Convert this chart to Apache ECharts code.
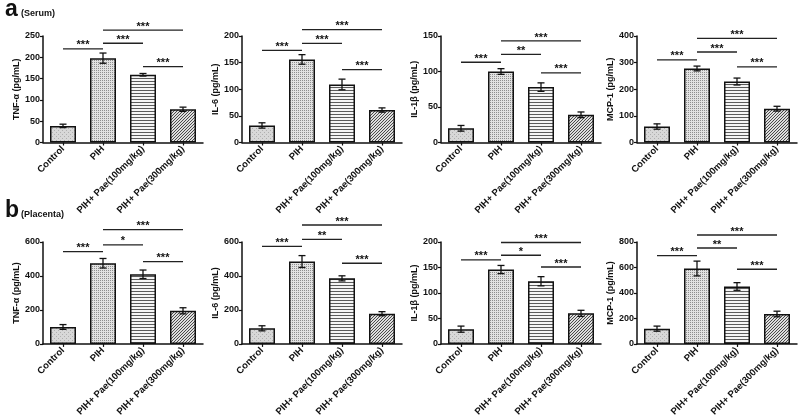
<!DOCTYPE html>
<html><head><meta charset="utf-8">
<script src="https://cdn.jsdelivr.net/npm/echarts@6/dist/echarts.min.js"></script>
<style>html,body{margin:0;padding:0;background:#fff}#c{width:800px;height:419px}</style>
</head><body><div id="c"></div>
<script>
const categories = ['Control', 'PIH', 'PIH+ Pae(100mg/kg)', 'PIH+ Pae(300mg/kg)'];

// (a) Serum
const serumTNF = [39, 198, 159, 78];
const serumTNFErr = [4, 12, 3, 5];
const serumIL6 = [32, 156, 109, 61];
const serumIL6Err = [5, 9, 10, 4];
const serumIL1b = [20, 100, 78, 39];
const serumIL1bErr = [4, 4, 6, 4];
const serumMCP1 = [60, 278, 229, 127];
const serumMCP1Err = [10, 9, 13, 9];

// (b) Placenta
const placTNF = [100, 475, 410, 195];
const placTNFErr = [14, 28, 25, 18];
const placIL6 = [92, 485, 386, 178];
const placIL6Err = [15, 35, 15, 12];
const placIL1b = [29, 146, 123, 60];
const placIL1bErr = [6, 8, 9, 6];
const placMCP1 = [120, 592, 451, 235];
const placMCP1Err = [20, 58, 30, 22];

// y axis ranges / tick steps
const yMaxList = [250, 200, 150, 400, 600, 600, 200, 800];
const yStepList = [50, 50, 50, 100, 200, 200, 50, 200];
const yNames = ['TNF-\u03b1 (pg/mL)', 'IL-6 (pg/mL)', 'IL-1\u03b2 (pg/mL)', 'MCP-1 (pg/mL)',
                'TNF-\u03b1 (pg/mL)', 'IL-6 (pg/mL)', 'IL-1\u03b2 (pg/mL)', 'MCP-1 (pg/mL)'];

// significance brackets: [fromIndex, toIndex, level, label]
const sigSerumTNF = [[0, 1, 220, '***'], [1, 2, 233, '***'], [1, 3, 264, '***'], [2, 3, 178, '***']];
const sigSerumIL6 = [[0, 1, 173, '***'], [1, 2, 186, '***'], [1, 3, 212, '***'], [2, 3, 137, '***']];
const sigSerumIL1b = [[0, 1, 113, '***'], [1, 2, 124, '**'], [1, 3, 143, '***'], [2, 3, 98, '***']];
const sigSerumMCP1 = [[0, 1, 310, '***'], [1, 2, 340, '***'], [1, 3, 391, '***'], [2, 3, 284, '***']];
const sigPlacTNF = [[0, 1, 543, '***'], [1, 2, 583, '*'], [1, 3, 673, '***'], [2, 3, 485, '***']];
const sigPlacIL6 = [[0, 1, 574, '***'], [1, 2, 615, '**'], [1, 3, 700, '***'], [2, 3, 475, '***']];
const sigPlacIL1b = [[0, 1, 165, '***'], [1, 2, 174, '*'], [1, 3, 199, '***'], [2, 3, 151, '***']];
const sigPlacMCP1 = [[0, 1, 693, '***'], [1, 2, 753, '**'], [1, 3, 855, '***'], [2, 3, 586, '***']];

const panels = [
  [serumTNF, serumTNFErr, sigSerumTNF], [serumIL6, serumIL6Err, sigSerumIL6],
  [serumIL1b, serumIL1bErr, sigSerumIL1b], [serumMCP1, serumMCP1Err, sigSerumMCP1],
  [placTNF, placTNFErr, sigPlacTNF], [placIL6, placIL6Err, sigPlacIL6],
  [placIL1b, placIL1bErr, sigPlacIL1b], [placMCP1, placMCP1Err, sigPlacMCP1]
];

// ---- styling helpers ----
function makePattern(kind) {
  const c = document.createElement('canvas');
  let ctx;
  if (kind === 0) { // light stipple
    c.width = 4; c.height = 4; ctx = c.getContext('2d');
    ctx.fillStyle = '#d8d8d8'; ctx.fillRect(0, 0, 4, 4);
    ctx.fillStyle = '#b0b0b0'; ctx.fillRect(0, 0, 1, 1); ctx.fillRect(2, 2, 1, 1);
  } else if (kind === 1) { // fine dot grid
    c.width = 2; c.height = 2; ctx = c.getContext('2d');
    ctx.fillStyle = '#e2e2e2'; ctx.fillRect(0, 0, 2, 2);
    ctx.fillStyle = '#8e8e8e'; ctx.fillRect(0, 0, 1, 1);
  } else if (kind === 2) { // horizontal stripes
    c.width = 1; c.height = 3; ctx = c.getContext('2d');
    ctx.fillStyle = '#f4f4f4'; ctx.fillRect(0, 0, 1, 3);
    ctx.fillStyle = '#5a5a5a'; ctx.fillRect(0, 0, 1, 1);
  } else { // diagonal hatch
    c.width = 3; c.height = 3; ctx = c.getContext('2d');
    ctx.fillStyle = '#dedede'; ctx.fillRect(0, 0, 3, 3);
    ctx.fillStyle = '#4a4a4a';
    ctx.fillRect(2, 0, 1, 1); ctx.fillRect(1, 1, 1, 1); ctx.fillRect(0, 2, 1, 1);
  }
  return { image: c, repeat: 'repeat' };
}
const patterns = [0, 1, 2, 3].map(makePattern);

const FONT = '"Liberation Sans", Arial, sans-serif';
const gridLefts = [43, 242, 441, 637];
const gridTops = [36, 242];
const gridW = 160, gridH = 106.5;

const grid = [], xAxis = [], yAxis = [], series = [];

function errRenderer(params, api) {
  const x = api.value(0), v = api.value(1), e = api.value(2);
  const hi = api.coord([x, v + e]);
  const lo = api.coord([x, v - e]);
  const w = 3.5;
  const st = { stroke: '#111', lineWidth: 1.3 };
  return { type: 'group', children: [
    { type: 'line', shape: { x1: hi[0], y1: hi[1], x2: lo[0], y2: lo[1] }, style: st },
    { type: 'line', shape: { x1: hi[0] - w, y1: hi[1], x2: hi[0] + w, y2: hi[1] }, style: st },
    { type: 'line', shape: { x1: lo[0] - w, y1: lo[1], x2: lo[0] + w, y2: lo[1] }, style: st }
  ] };
}
function sigRenderer(sigArr) {
  return function (params, api) {
    const a = api.coord([api.value(0), api.value(2)]);
    const b = api.coord([api.value(1), api.value(2)]);
    const label = sigArr[params.dataIndex][3];
    return { type: 'group', children: [
      { type: 'line', shape: { x1: a[0], y1: a[1], x2: b[0], y2: b[1] }, style: { stroke: '#222', lineWidth: 1.3 } },
      { type: 'text', x: (a[0] + b[0]) / 2, y: a[1] + 2,
        style: { text: label, fill: '#111', font: 'bold 11px ' + FONT, align: 'center', verticalAlign: 'bottom' } }
    ] };
  };
}

panels.forEach((p, i) => {
  const [vals, errs, sig] = p;
  const row = i < 4 ? 0 : 1, col = i % 4;
  grid.push({ left: gridLefts[col], top: gridTops[row], width: gridW, height: gridH });
  xAxis.push({
    type: 'category', gridIndex: i, data: categories, boundaryGap: true,
    axisLine: { show: true, lineStyle: { color: '#111', width: 1.5 } },
    axisTick: { show: true, alignWithLabel: true, length: 3, lineStyle: { color: '#111', width: 1.2 } },
    axisLabel: { interval: 0, rotate: 45, margin: 5, color: '#111', fontSize: 9.5, fontWeight: 'bold', fontFamily: FONT },
    splitLine: { show: false }
  });
  yAxis.push({
    type: 'value', gridIndex: i, min: 0, max: yMaxList[i], interval: yStepList[i],
    name: yNames[i], nameLocation: 'middle', nameGap: 21, nameRotate: 90,
    nameTextStyle: { color: '#111', fontSize: 9, fontWeight: 'bold', fontFamily: FONT },
    axisLine: { show: true, lineStyle: { color: '#111', width: 1.5 } },
    axisTick: { show: true, length: 3, lineStyle: { color: '#111', width: 1.2 } },
    axisLabel: { margin: 3, color: '#111', fontSize: 9, fontWeight: 'bold', fontFamily: FONT },
    splitLine: { show: false }
  });
  series.push({
    type: 'bar', xAxisIndex: i, yAxisIndex: i, barWidth: '65%', silent: true,
    data: vals.map((v, k) => ({ value: v, itemStyle: { color: patterns[k], borderColor: '#111', borderWidth: 1.5 } })),
    z: 2
  });
  series.push({
    type: 'custom', xAxisIndex: i, yAxisIndex: i, silent: true, z: 5,
    renderItem: errRenderer, encode: { x: 0, y: 1 },
    data: vals.map((v, k) => [k, v, errs[k]])
  });
  series.push({
    type: 'custom', xAxisIndex: i, yAxisIndex: i, silent: true, z: 5, clip: false,
    renderItem: sigRenderer(sig), encode: { x: [0, 1], y: 2 },
    data: sig.map(s => [s[0], s[1], s[2]])
  });
});

const chart = echarts.init(document.getElementById('c'), null, { renderer: 'canvas' });
chart.setOption({
  backgroundColor: '#ffffff',
  animation: false,
  tooltip: { show: false },
  grid, xAxis, yAxis, series,
  graphic: [
    { type: 'text', x: 5, y: 21, style: { text: 'a', fill: '#111', font: 'bold 23px ' + FONT, verticalAlign: 'bottom' } },
    { type: 'text', x: 21, y: 18, style: { text: '(Serum)', fill: '#111', font: 'bold 9px ' + FONT, verticalAlign: 'bottom' } },
    { type: 'text', x: 5, y: 222, style: { text: 'b', fill: '#111', font: 'bold 23px ' + FONT, verticalAlign: 'bottom' } },
    { type: 'text', x: 21, y: 219, style: { text: '(Placenta)', fill: '#111', font: 'bold 9px ' + FONT, verticalAlign: 'bottom' } }
  ]
});
</script>
</body></html>
